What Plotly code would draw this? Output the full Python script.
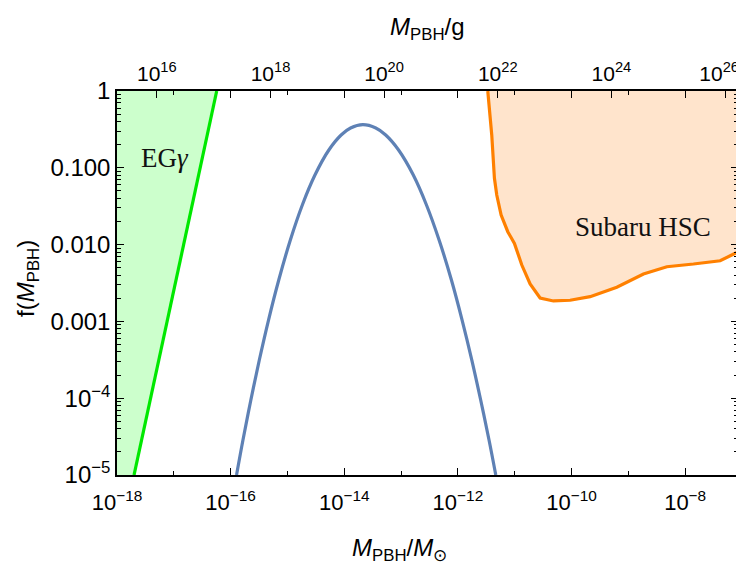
import plotly.graph_objects as go

# ---------------- data (log10 values) ----------------
LOG_MSUN_G = 33.2986          # log10(solar mass in grams)
X_RANGE = [-18.0, -7.07]      # log10(M/Msun)
Y_RANGE = [-5.0, 0.0]         # log10 f

# Extragalactic gamma-ray bound (straight line in log-log)
egg_logm = [-17.70, -16.245]
egg_logf = [-5.0, 0.0]

# PBH mass function f(M)
pbh_logm = [-15.896, -15.783, -15.644, -15.495, -15.333, -15.153, -14.949, -14.738,
            -14.516, -14.271, -14.055, -13.889, -13.673, -13.445, -13.271, -13.044,
            -12.785, -12.553, -12.331, -12.114, -11.926, -11.755, -11.599, -11.452,
            -11.333]
pbh_logf = [-5.000, -4.544, -4.023, -3.503, -2.982, -2.461, -1.940, -1.484,
            -1.094, -0.768, -0.573, -0.482, -0.439, -0.482, -0.573, -0.768,
            -1.094, -1.484, -1.940, -2.461, -2.982, -3.503, -4.023, -4.544,
            -5.000]

# Subaru HSC microlensing bound
hsc_logm = [-11.474, -11.404, -11.357, -11.316, -11.239, -11.122, -11.005, -10.875,
            -10.729, -10.553, -10.319, -10.025, -9.673, -9.203, -8.734, -8.322,
            -7.854, -7.384, -7.062]
hsc_logf = [0.0, -0.573, -1.137, -1.354, -1.615, -1.832, -1.984, -2.266,
            -2.513, -2.695, -2.734, -2.725, -2.678, -2.556, -2.383, -2.288,
            -2.253, -2.210, -2.092]

# ticks
x_major = [-18, -16, -14, -12, -10, -8]
x_minor = [-17, -15, -13, -11, -9]
y_major = [-5, -4, -3, -2, -1, 0]
y_labels = ["10<sup>\u22125</sup>", "10<sup>\u22124</sup>", "0.001", "0.010", "0.100", "1"]
top_major = [16, 18, 20, 22, 24, 26]
top_labels = ["10<sup>16</sup>", "10<sup>18</sup>", "10<sup>20</sup>", "10<sup>22</sup>",
              "10<sup>24</sup>", "10<sup>26</sup>\u00a0\u00a0"]

# ---------------- styles ----------------
GREEN = "rgb(0,232,0)"
GREEN_FILL = "rgb(204,255,204)"
BLUE = "rgb(94,129,181)"
ORANGE = "rgb(255,128,0)"
ORANGE_FILL = "rgb(255,228,204)"
SANS = "Liberation Sans"
SERIF = "Liberation Serif"


def tick_font(size):
    return dict(family=SANS, size=size, color="black")


def p(v):
    return float(10.0 ** float(v))


fig = go.Figure()

# EG gamma excluded region
fig.add_trace(go.Scatter(
    x=[p(X_RANGE[0])] + [p(v) for v in egg_logm] + [p(X_RANGE[0])],
    y=[p(Y_RANGE[0])] + [p(v) for v in egg_logf] + [p(Y_RANGE[1])],
    fill="toself", fillcolor=GREEN_FILL, mode="lines", line=dict(width=0),
    hoverinfo="skip"))
fig.add_trace(go.Scatter(x=[p(v) for v in egg_logm], y=[p(v) for v in egg_logf],
                         mode="lines", line=dict(color=GREEN, width=3.2)))

# Subaru HSC excluded region
fig.add_trace(go.Scatter(
    x=[p(v) for v in hsc_logm] + [p(X_RANGE[1] + 0.1), p(X_RANGE[1] + 0.1)],
    y=[p(v) for v in hsc_logf] + [p(hsc_logf[-1]), p(Y_RANGE[1])],
    fill="toself", fillcolor=ORANGE_FILL, mode="lines", line=dict(width=0),
    hoverinfo="skip"))
fig.add_trace(go.Scatter(x=[p(v) for v in hsc_logm], y=[p(v) for v in hsc_logf],
                         mode="lines", line=dict(color=ORANGE, width=3.2)))

# PBH abundance
fig.add_trace(go.Scatter(x=[p(v) for v in pbh_logm], y=[p(v) for v in pbh_logf],
                         mode="lines",
                         line=dict(color=BLUE, width=3.2, shape="spline", smoothing=1.0)))

# dummy trace binding top axis (grams)
fig.add_trace(go.Scatter(x=[p(X_RANGE[0] + LOG_MSUN_G)], y=[p(Y_RANGE[0])], xaxis="x2",
                         mode="markers", marker=dict(opacity=0), hoverinfo="skip"))

axis_common = dict(type="log", showgrid=False, zeroline=False, showline=True,
                   linecolor="black", linewidth=1.5, ticks="inside", ticklen=7,
                   tickwidth=1, tickcolor="black", mirror="ticks", automargin=False)

# the page body adds an 8 px offset, margins compensate for it
fig.update_layout(
    width=744, height=570,
    margin=dict(l=109, r=14, t=83, b=103),
    paper_bgcolor="white", plot_bgcolor="white", showlegend=False,
    xaxis=dict(axis_common, range=X_RANGE, tickfont=tick_font(22),
               ticklabelstandoff=7,
               tickvals=[p(v) for v in x_major],
               ticktext=["10<sup>\u2212%d</sup>" % (-v) for v in x_major],
               minor=dict(tickvals=[p(v) for v in x_minor], ticks="inside", ticklen=4,
                          tickcolor="black", tickwidth=1, showgrid=False)),
    xaxis2=dict(type="log", overlaying="x", side="top",
                range=[X_RANGE[0] + LOG_MSUN_G, X_RANGE[1] + LOG_MSUN_G],
                showgrid=False, zeroline=False, showline=False, automargin=False,
                ticks="inside", ticklen=7, tickwidth=1, tickcolor="black",
                ticklabelstandoff=5,
                tickvals=[p(v) for v in top_major], ticktext=top_labels,
                tickfont=tick_font(21)),
    yaxis=dict(axis_common, range=Y_RANGE, tickfont=tick_font(24),
               tickvals=[p(v) for v in y_major], ticktext=y_labels,
               minor=dict(tickvals=[k * p(e) for e in range(-5, 0) for k in range(2, 10)],
                          ticks="inside", ticklen=4, tickcolor="black", tickwidth=1,
                          showgrid=False)),
)

# region labels
fig.add_annotation(x=-17.164, y=-0.872, xref="x", yref="y", text="EG<i>\u03b3</i>",
                   showarrow=False, xanchor="center", yanchor="middle",
                   font=dict(family=SERIF, size=27, color="#111"))
fig.add_annotation(x=-8.748, y=-1.771, xref="x", yref="y", text="Subaru HSC",
                   showarrow=False, xanchor="center", yanchor="middle",
                   font=dict(family=SERIF, size=27, color="#111"))

# axis titles
TITLE_FONT = dict(family=SANS, size=24, color="black")
fig.add_annotation(x=0.5008, y=1.163, xref="paper", yref="paper",
                   xanchor="center", yanchor="middle",
                   text="<i>M</i><sub>PBH</sub>/g", showarrow=False, font=TITLE_FONT)
fig.add_annotation(x=0.4557, y=-0.195, xref="paper", yref="paper",
                   xanchor="center", yanchor="middle",
                   text="<i>M</i><sub>PBH</sub>/<i>M</i><sub>\u2299</sub>", showarrow=False,
                   font=TITLE_FONT)
fig.add_annotation(x=-0.145, y=0.513, xref="paper", yref="paper", textangle=-90,
                   xanchor="center", yanchor="middle",
                   text="f(<i>M</i><sub>PBH</sub>)", showarrow=False, font=TITLE_FONT)

fig.write_html("out.html")
